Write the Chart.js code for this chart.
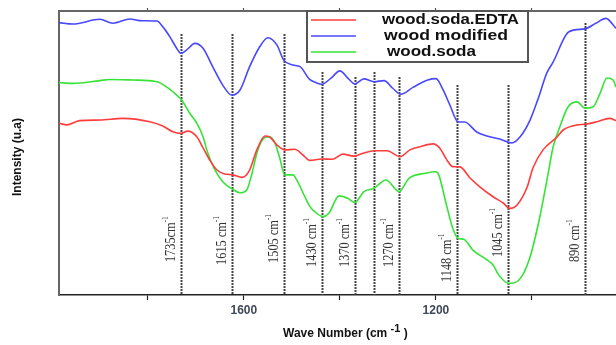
<!DOCTYPE html>
<html>
<head>
<meta charset="utf-8">
<script src="https://cdn.jsdelivr.net/npm/chart.js"></script>
<style>
    body { margin: 0; background: #fff; overflow: hidden; }
    canvas { display: block; }
</style>
</head>
<body>
<canvas id="chart-ftir" width="616" height="345"></canvas>
<script>
// wave numbers (cm-1) and relative intensity
const seriesNames = ['wood.soda.EDTA', 'wood modified', 'wood.soda'];

const edtaWave = [1985, 1969, 1942, 1900, 1852, 1796, 1769, 1748, 1731, 1717, 1698, 1685, 1671, 1656, 1640, 1623, 1604, 1588, 1573, 1556, 1546, 1531, 1515, 1494, 1477, 1463, 1438, 1415, 1394, 1371, 1352, 1329, 1302, 1275, 1254, 1233, 1206, 1192, 1177, 1165, 1150, 1129, 1108, 1081, 1060, 1046, 1031, 1010, 998, 977, 948, 935, 906, 890, 865, 838, 825];
const edtaValue = [60.5, 59.9, 61.4, 61.6, 62.2, 61.0, 59.5, 57.5, 56.9, 57.7, 55.7, 51.8, 47.5, 44.0, 42.6, 42.3, 41.4, 44.0, 51.1, 56.0, 55.6, 52.8, 51.1, 51.3, 49.3, 47.4, 47.9, 47.8, 49.6, 48.9, 49.9, 50.8, 50.8, 48.7, 51.1, 52.2, 53.2, 51.7, 47.5, 45.2, 45.1, 41.2, 38.0, 34.6, 32.4, 30.5, 31.7, 38.0, 44.7, 51.1, 55.6, 58.1, 59.9, 60.1, 61.0, 62.2, 61.4];

const modifiedWave = [1985, 1956, 1900, 1873, 1837, 1817, 1781, 1769, 1754, 1740, 1731, 1719, 1702, 1685, 1665, 1644, 1625, 1608, 1588, 1567, 1550, 1531, 1517, 1498, 1483, 1463, 1450, 1438, 1419, 1400, 1383, 1369, 1350, 1329, 1308, 1290, 1273, 1248, 1217, 1200, 1185, 1171, 1154, 1140, 1115, 1094, 1067, 1042, 1025, 1004, 988, 969, 956, 923, 890, 867, 846, 825];
const modifiedValue = [95.9, 95.4, 97.1, 95.7, 97.2, 96.6, 96.5, 94.5, 90.9, 86.9, 85.1, 86.3, 88.6, 86.9, 80.4, 73.9, 70.4, 72.2, 80.4, 87.4, 90.6, 88.0, 82.7, 81.0, 80.4, 75.9, 74.8, 74.2, 76.3, 78.9, 76.3, 74.3, 76.1, 75.1, 75.5, 72.8, 70.7, 73.1, 75.7, 76.2, 72.2, 66.9, 61.0, 60.9, 57.4, 56.0, 54.9, 53.5, 55.6, 61.6, 68.7, 78.2, 82.0, 92.7, 93.7, 95.7, 97.4, 93.9];

const sodaWave = [1985, 1956, 1900, 1879, 1831, 1781, 1758, 1740, 1731, 1713, 1696, 1685, 1675, 1660, 1644, 1623, 1608, 1594, 1583, 1571, 1556, 1546, 1535, 1525, 1515, 1498, 1488, 1473, 1463, 1456, 1435, 1423, 1402, 1383, 1369, 1350, 1329, 1304, 1277, 1256, 1221, 1200, 1194, 1179, 1165, 1154, 1142, 1123, 1096, 1081, 1069, 1048, 1027, 1006, 985, 965, 956, 942, 925, 906, 890, 873, 858, 844, 831, 825];
const sodaValue = [74.8, 74.5, 75.5, 75.9, 75.7, 75.1, 72.9, 70.4, 69.0, 64.1, 59.9, 55.7, 49.9, 44.0, 39.9, 37.2, 36.0, 37.0, 42.9, 51.1, 55.5, 55.7, 53.4, 48.1, 42.3, 42.3, 39.9, 34.6, 31.3, 29.9, 27.6, 28.8, 34.9, 34.0, 32.6, 36.4, 37.6, 40.5, 36.4, 41.1, 42.9, 43.4, 42.3, 32.3, 23.5, 20.0, 19.6, 15.8, 12.6, 10.6, 7.0, 4.1, 5.3, 12.3, 26.4, 44.0, 52.1, 59.2, 66.2, 68.0, 65.8, 66.2, 71.1, 76.4, 75.7, 73.2];

// band markers: position, top of the dotted line, label text, label base
const bandWave = [1731, 1625, 1517, 1437, 1369, 1329, 1277, 1156, 1050, 890];
const bandTop = [91.9, 91.9, 91.9, 78.5, 76.8, 78.5, 76.8, 73.9, 73.9, 95.8];
const bandLabel = ['1735cm', '1615 cm', '1505 cm', '1430 cm', '1370 cm', '', '1270 cm', '1148 cm', '1045 cm', '890 cm'];
const bandLabelBase = [11.6, 10.6, 11.3, 9.9, 9.9, 0, 9.9, 4.6, 13.4, 11.6];

const xTicks = [1800, 1600, 1400, 1200, 1000];
const xTickLabels = [1600, 1200];

const colors = ['#ff3c3c', '#4848ff', '#36e336'];

function toPoints(wave, value) {
    return wave.map(function (w, i) {
        return { x: w, y: value[i] };
    });
}

function setTicks(axis) {
    axis.ticks = xTicks.map(function (v) {
        return { value: v };
    });
}

function drawSupText(ctx, x, y, main, sup, font, supFont, raise) {
    ctx.font = font;
    ctx.fillText(main, x, y);
    const w = ctx.measureText(main).width;
    ctx.font = supFont;
    ctx.fillText(sup, x + w, y - raise);
    return w + ctx.measureText(sup).width;
}

const decorPlugin = {
    id: 'decor',
    beforeDatasetsDraw: function (chart) {
        const ctx = chart.ctx;
        const xs = chart.scales.x;
        const ys = chart.scales.y;
        ctx.save();
        ctx.strokeStyle = '#444';
        ctx.lineWidth = 2;
        ctx.setLineDash([2, 1]);
        bandWave.forEach(function (w, i) {
            const px = Math.round(xs.getPixelForValue(w)) + 0.5;
            ctx.beginPath();
            ctx.moveTo(px, ys.getPixelForValue(bandTop[i]));
            ctx.lineTo(px, chart.chartArea.bottom);
            ctx.stroke();
        });
        ctx.restore();
    },
    afterDraw: function (chart) {
        const ctx = chart.ctx;
        const xs = chart.scales.x;
        const ys = chart.scales.y;
        ctx.save();

        // rotated band labels
        ctx.fillStyle = '#333';
        ctx.textBaseline = 'middle';
        ctx.textAlign = 'left';
        bandLabel.forEach(function (label, i) {
            if (!label) {
                return;
            }
            const px = xs.getPixelForValue(bandWave[i]) - 10;
            const py = ys.getPixelForValue(bandLabelBase[i]);
            ctx.save();
            ctx.translate(px, py);
            ctx.rotate(-Math.PI / 2);
            ctx.scale(0.82, 1);
            drawSupText(ctx, 0, 0, label, '-1', '15px "Liberation Serif"', '9px "Liberation Serif"', 5);
            ctx.restore();
        });

        // legend box
        ctx.setLineDash([]);
        ctx.fillStyle = '#fff';
        ctx.fillRect(307, 11, 221, 51);
        ctx.strokeStyle = '#555';
        ctx.lineWidth = 2;
        ctx.strokeRect(307, 11, 221, 51);
        const rowY = [20, 36, 52];
        const textX = [382, 384, 387];
        const textW = [137, 124, 89];
        seriesNames.forEach(function (name, i) {
            ctx.strokeStyle = colors[i];
            ctx.lineWidth = 1.5;
            ctx.beginPath();
            ctx.moveTo(311, rowY[i]);
            ctx.lineTo(356, rowY[i]);
            ctx.stroke();
            ctx.font = 'bold 14px "Liberation Sans", Arial';
            ctx.fillStyle = '#111';
            const w = ctx.measureText(name).width;
            ctx.save();
            ctx.translate(textX[i], rowY[i]);
            ctx.scale(textW[i] / w, 1);
            ctx.fillText(name, 0, 0);
            ctx.restore();
        });

        // axis titles
        ctx.fillStyle = '#111';
        ctx.save();
        ctx.translate(18, 157);
        ctx.rotate(-Math.PI / 2);
        ctx.textAlign = 'center';
        ctx.font = 'bold 12px "Liberation Sans", Arial';
        ctx.fillText('Intensity (u.a)', 0, 0);
        ctx.restore();

        ctx.textAlign = 'left';
        const x0 = 283;
        const used = drawSupText(ctx, x0, 334, 'Wave Number (cm ', '-1', 'bold 12px "Liberation Sans", Arial', 'bold 11px "Liberation Sans", Arial', 5);
        ctx.font = 'bold 12px "Liberation Sans", Arial';
        ctx.fillText(' )', x0 + used, 334);

        ctx.restore();
    }
};

const config = {
    type: 'line',
    data: {
        datasets: [
            { label: seriesNames[0], data: toPoints(edtaWave, edtaValue) },
            { label: seriesNames[1], data: toPoints(modifiedWave, modifiedValue) },
            { label: seriesNames[2], data: toPoints(sodaWave, sodaValue) }
        ].map(function (ds, i) {
            ds.borderColor = colors[i];
            ds.borderWidth = 1.6;
            ds.pointRadius = 0;
            ds.fill = false;
            ds.tension = 0.4;
            ds.cubicInterpolationMode = 'monotone';
            return ds;
        })
    },
    options: {
        responsive: false,
        animation: false,
        layout: {
            padding: { left: 59, top: 8, right: 0, bottom: 24.6 }
        },
        plugins: {
            legend: { display: false },
            tooltip: { enabled: false }
        },
        scales: {
            x: {
                type: 'linear',
                position: 'bottom',
                reverse: true,
                min: 825,
                max: 1985,
                afterBuildTicks: setTicks,
                ticks: {
                    padding: 3,
                    maxRotation: 0,
                    autoSkip: false,
                    color: '#3f4758',
                    font: { family: '"Liberation Sans", Arial', size: 12, weight: 'bold' },
                    callback: function (v) {
                        return xTickLabels.indexOf(v) >= 0 ? String(v) : '';
                    }
                },
                grid: { drawOnChartArea: false, tickLength: 5, tickColor: '#222', tickWidth: 1.2 },
                border: { display: true, color: '#222', width: 1.5 }
            },
            xTop: {
                type: 'linear',
                position: 'top',
                reverse: true,
                min: 825,
                max: 1985,
                afterBuildTicks: setTicks,
                ticks: { display: false },
                grid: { drawOnChartArea: false, tickLength: 3, tickColor: '#555', tickWidth: 1.2 },
                border: { display: true, color: '#666', width: 2 }
            },
            y: {
                min: 0,
                max: 100,
                ticks: { display: false },
                grid: { display: false, drawTicks: false },
                border: { display: true, color: '#666', width: 2 }
            }
        }
    },
    plugins: [decorPlugin]
};

const chart = new Chart(document.getElementById('chart-ftir'), config);
</script>
</body>
</html>
